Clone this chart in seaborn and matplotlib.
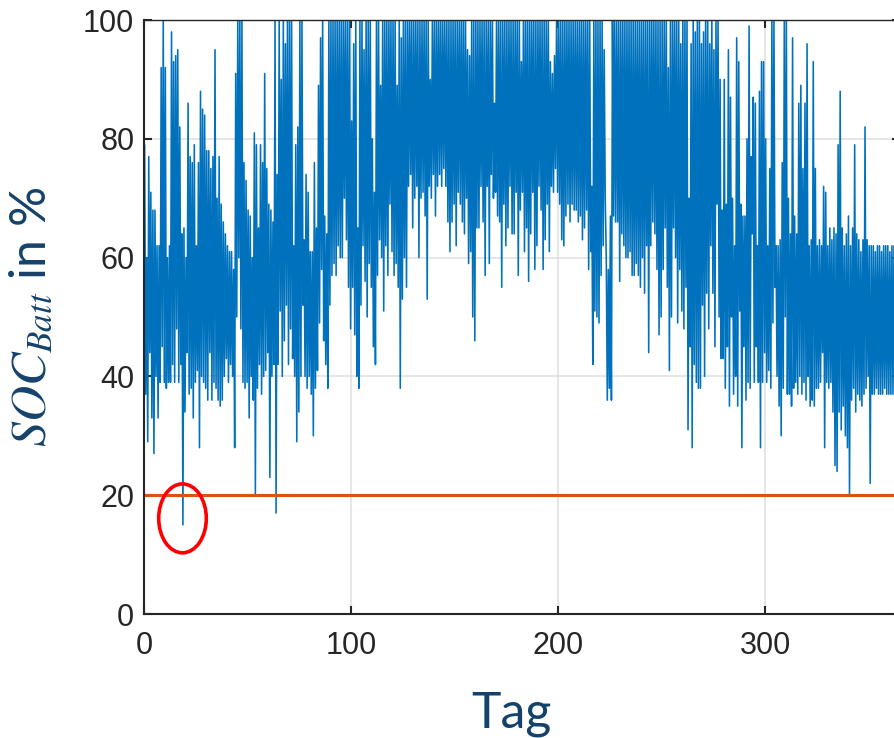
import numpy as np
import pandas as pd
import matplotlib
matplotlib.use("Agg")
import matplotlib.pyplot as plt
from matplotlib.patches import Ellipse
import seaborn as sns

# ---- data: daily maximum and minimum SOC in % ----
daily_high = [
    79, 60, 77, 71, 68, 68, 62, 62, 92, 100,
    92, 60, 62, 98, 93, 94, 95, 82, 64, 65,
    60, 86, 77, 76, 79, 62, 76, 88, 85, 84,
    78, 78, 75, 77, 95, 70, 77, 69, 66, 64,
    62, 61, 61, 58, 91, 100, 100, 100, 76, 73,
    68, 67, 60, 81, 79, 65, 79, 76, 91, 75,
    69, 68, 66, 100, 74, 100, 90, 100, 96, 100,
    100, 100, 62, 79, 82, 100, 100, 63, 74, 71,
    61, 61, 76, 65, 89, 97, 100, 67, 64, 100,
    100, 100, 100, 100, 100, 100, 100, 100, 100, 100,
    83, 96, 100, 65, 100, 100, 95, 100, 100, 100,
    80, 71, 100, 100, 89, 100, 100, 100, 100, 100,
    100, 100, 89, 100, 97, 100, 100, 100, 100, 100,
    100, 100, 100, 100, 100, 100, 100, 100, 90, 100,
    100, 100, 100, 100, 100, 100, 100, 100, 100, 100,
    100, 100, 100, 100, 100, 100, 95, 94, 100, 100,
    100, 100, 100, 100, 100, 100, 100, 100, 100, 86,
    100, 100, 100, 100, 100, 100, 100, 100, 100, 100,
    100, 100, 93, 100, 100, 100, 100, 100, 100, 100,
    100, 100, 100, 100, 100, 100, 93, 91, 94, 100,
    100, 100, 100, 100, 100, 100, 100, 100, 100, 100,
    100, 100, 100, 100, 100, 100, 72, 100, 100, 100,
    100, 100, 95, 60, 58, 67, 100, 100, 100, 100,
    100, 100, 100, 100, 100, 100, 100, 100, 100, 100,
    100, 100, 100, 100, 100, 100, 100, 100, 100, 100,
    100, 100, 100, 92, 100, 100, 100, 100, 100, 96,
    100, 100, 100, 70, 96, 100, 98, 100, 100, 96,
    98, 100, 100, 96, 100, 95, 100, 100, 90, 68,
    90, 69, 95, 87, 70, 62, 97, 93, 69, 67,
    67, 80, 99, 77, 87, 86, 62, 88, 93, 93,
    80, 62, 75, 100, 100, 62, 62, 63, 76, 100,
    100, 70, 64, 97, 67, 64, 86, 89, 75, 86,
    96, 62, 63, 93, 75, 62, 63, 62, 72, 71,
    62, 65, 63, 65, 64, 79, 88, 65, 62, 64,
    67, 62, 65, 79, 64, 63, 61, 63, 82, 63,
    62, 62, 62, 61, 62, 62, 61, 62, 62, 62,
    61, 62, 62, 62, 62,
]
daily_low = [
    37, 29, 44, 33, 27, 40, 33, 39, 45, 39,
    38, 39, 39, 42, 39, 48, 39, 42, 15, 34,
    44, 37, 38, 33, 39, 41, 28, 40, 39, 38,
    36, 44, 36, 39, 38, 36, 35, 36, 40, 43,
    39, 42, 40, 28, 50, 60, 48, 39, 38, 39,
    33, 40, 36, 20, 38, 42, 37, 40, 41, 44,
    23, 40, 42, 17, 42, 51, 40, 46, 52, 42,
    48, 43, 40, 29, 34, 40, 52, 40, 38, 40,
    37, 30, 38, 41, 49, 58, 46, 42, 38, 52,
    57, 59, 57, 62, 60, 60, 70, 63, 55, 48,
    55, 47, 40, 38, 52, 62, 56, 50, 59, 55,
    45, 42, 57, 63, 60, 51, 62, 57, 69, 61,
    57, 59, 55, 38, 53, 60, 55, 72, 74, 65,
    70, 72, 60, 70, 71, 67, 53, 72, 70, 74,
    67, 72, 74, 72, 75, 72, 66, 61, 66, 69,
    62, 71, 69, 66, 64, 70, 59, 61, 50, 46,
    65, 65, 72, 66, 57, 72, 59, 74, 70, 71,
    67, 66, 55, 69, 62, 65, 72, 64, 64, 71,
    57, 68, 71, 61, 65, 56, 64, 71, 58, 62,
    72, 68, 58, 63, 69, 61, 72, 71, 75, 71,
    69, 63, 62, 67, 69, 66, 69, 68, 68, 66,
    67, 63, 65, 68, 58, 61, 42, 51, 50, 49,
    57, 62, 70, 36, 38, 36, 67, 66, 66, 56,
    64, 62, 60, 60, 61, 57, 57, 59, 57, 55,
    60, 54, 62, 44, 62, 66, 64, 58, 47, 50,
    58, 65, 55, 41, 50, 65, 60, 49, 58, 51,
    48, 55, 31, 45, 28, 42, 39, 38, 38, 52,
    40, 54, 48, 62, 54, 45, 69, 50, 43, 43,
    38, 45, 35, 50, 37, 40, 35, 51, 28, 45,
    36, 39, 38, 64, 39, 45, 39, 28, 39, 44,
    39, 41, 38, 49, 55, 40, 35, 30, 38, 50,
    37, 37, 35, 38, 39, 37, 40, 37, 39, 36,
    40, 35, 36, 35, 38, 38, 39, 44, 28, 39,
    38, 39, 34, 25, 24, 34, 31, 35, 30, 28,
    20, 36, 38, 34, 37, 36, 35, 37, 38, 40,
    22, 37, 37, 38, 37, 37, 37, 38, 37, 37,
    37, 37, 37, 37, 37,
]
min_soc_days = [0, 365]
min_soc = [20, 20]
x_ticks = [0, 100, 200, 300]
y_ticks = [0, 20, 40, 60, 80, 100]
marked_day, marked_value = 18.6, 16.1

# ---- build long table: each day rises to its high, then falls to its low ----
days = np.arange(len(daily_high))
tag = np.empty(2 * len(days))
soc = np.empty(2 * len(days))
tag[0::2] = days + 0.3
tag[1::2] = days + 0.8
soc[0::2] = daily_high
soc[1::2] = daily_low
df = pd.DataFrame({"Tag": tag, "SOC": soc})
df_min = pd.DataFrame({"Tag": min_soc_days, "SOC": min_soc})

sns.set_style("ticks")
plt.rcParams["font.family"] = ["Liberation Sans", "DejaVu Sans"]
plt.rcParams["mathtext.fontset"] = "stix"

fig = plt.figure(figsize=(8.94, 7.38), dpi=100)
ax = fig.add_axes([144 / 894, 124 / 738, 755.6 / 894, 594 / 738])

sns.lineplot(data=df, x="Tag", y="SOC", ax=ax, color="#0072BD",
             linewidth=1.15, estimator=None, sort=False)
sns.lineplot(data=df_min, x="Tag", y="SOC", ax=ax, color="#D95319",
             linewidth=2.2, estimator=None, sort=False)

ax.add_patch(Ellipse((marked_day, marked_value), width=23, height=11.6,
                     fill=False, edgecolor="#FF0000", linewidth=2.6, zorder=5))

ax.set_xlim(0, 365)
ax.set_ylim(0, 100)
ax.set_xticks(x_ticks)
ax.set_yticks(y_ticks)
ax.grid(True, color="#DFDFDF", linewidth=1.1)
ax.set_axisbelow(True)
for side in ["left", "bottom", "top", "right"]:
    ax.spines[side].set_visible(True)
    ax.spines[side].set_color("#262626")
    ax.spines[side].set_linewidth(1.5)
ax.spines["top"].set_linewidth(1.0)
ax.tick_params(direction="in", length=6, width=1.5, colors="#262626",
               labelsize=22, top=True, right=True, pad=7)
ax.tick_params(axis="x", pad=12)

label_color = "#15426B"
ax.set_xlabel("Tag", fontsize=36, color=label_color, family=["Lato", "DejaVu Sans"])
ax.xaxis.set_label_coords(0.486, -0.13)
ax.set_ylabel(r"$SOC_{Batt}$ in %", fontsize=36, color=label_color,
              family=["Lato", "DejaVu Sans"])
ax.yaxis.set_label_coords(-0.118, 0.5)

fig.savefig("out.png", dpi=100)
